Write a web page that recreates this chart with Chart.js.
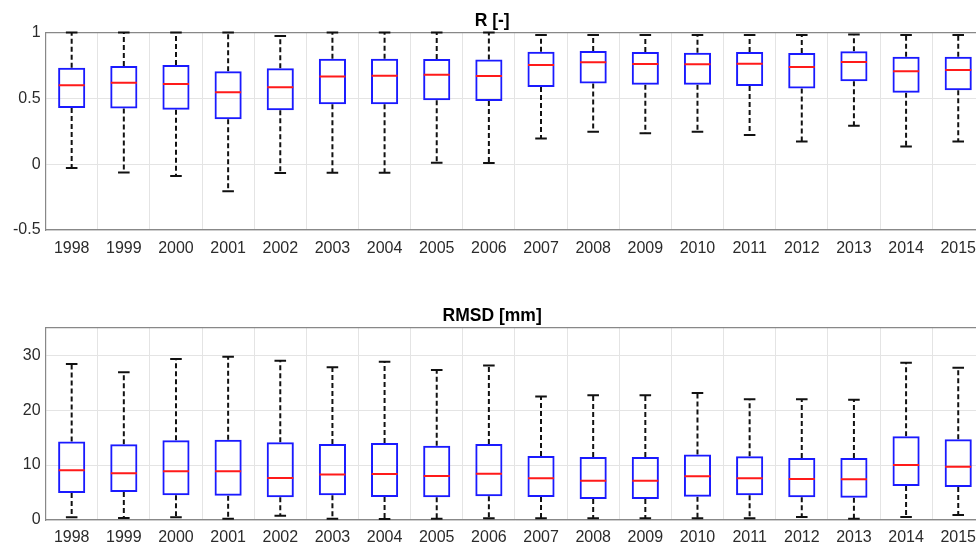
<!DOCTYPE html>
<html>
<head>
<meta charset="utf-8">
<script src="https://cdn.jsdelivr.net/npm/chart.js@4.4.1/dist/chart.umd.min.js"></script>
<style>
  html, body { margin: 0; padding: 0; background: #fff; overflow: hidden; width: 976px; height: 545px; }
  #wrap { position: relative; width: 976px; height: 545px; overflow: hidden; }
  canvas { position: absolute; left: 0; }
  #c1 { top: 0; }
  #c2 { top: 290px; }
</style>
</head>
<body>
<div id="wrap">
  <canvas id="c1" width="1000" height="270"></canvas>
  <canvas id="c2" width="1000" height="255"></canvas>
</div>
<script>
const years = ['1998','1999','2000','2001','2002','2003','2004','2005','2006','2007','2008','2009','2010','2011','2012','2013','2014','2015'];

// R [-]
const rMax = [1, 1, 1, 1, 0.973, 1, 1, 1, 1, 0.981, 0.981, 0.981, 0.981, 0.981, 0.981, 0.984, 0.981, 0.981];
const rQ3  = [0.733, 0.746, 0.753, 0.706, 0.728, 0.801, 0.801, 0.799, 0.794, 0.854, 0.860, 0.852, 0.847, 0.852, 0.844, 0.857, 0.816, 0.816];
const rMed = [0.600, 0.619, 0.609, 0.546, 0.584, 0.665, 0.672, 0.680, 0.670, 0.753, 0.774, 0.761, 0.759, 0.763, 0.738, 0.776, 0.706, 0.716];
const rQ1  = [0.427, 0.422, 0.414, 0.341, 0.410, 0.455, 0.455, 0.486, 0.480, 0.586, 0.612, 0.604, 0.604, 0.594, 0.574, 0.630, 0.543, 0.561];
const rMin = [-0.030, -0.064, -0.089, -0.205, -0.068, -0.066, -0.066, 0.010, 0.008, 0.194, 0.247, 0.235, 0.247, 0.222, 0.172, 0.291, 0.134, 0.172];
const rTicks = [-0.5, 0, 0.5, 1];

// RMSD [mm]
const sMax = [28.4, 26.9, 29.3, 29.7, 29.0, 27.8, 28.8, 27.3, 28.1, 22.5, 22.7, 22.7, 23.1, 22.0, 22.0, 21.9, 28.6, 27.7];
const sQ3  = [14.3, 13.8, 14.5, 14.6, 14.15, 13.84, 14.0, 13.5, 13.84, 11.66, 11.48, 11.48, 11.9, 11.6, 11.3, 11.3, 15.24, 14.7];
const sMed = [9.05, 8.5, 8.86, 8.86, 7.65, 8.3, 8.38, 8.0, 8.44, 7.59, 7.16, 7.16, 7.95, 7.59, 7.47, 7.4, 10.0, 9.71];
const sQ1  = [4.92, 5.1, 4.5, 4.43, 4.13, 4.5, 4.19, 4.13, 4.3, 4.19, 3.83, 3.83, 4.25, 4.5, 4.13, 4.07, 6.19, 6.0];
const sMin = [0.49, 0.36, 0.49, 0.24, 0.79, 0.24, 0.18, 0.24, 0.3, 0.3, 0.3, 0.3, 0.3, 0.3, 0.55, 0.24, 0.55, 0.9];
const sTicks = [0, 10, 20, 30];

const FONT = "'Liberation Sans', Arial, Helvetica, sans-serif";
const CAP = 0.111;   // half width of whisker caps (x units)
const HALF = 0.25;   // half width of median line (x units)

function segs(pairsFn) {
  const out = [];
  years.forEach((_, i) => {
    pairsFn(i).forEach(p => out.push(p));
    out.push({x: i, y: null});
  });
  return out;
}

function buildDatasets(mn, q1, md, q3, mx) {
  return [
    { type: 'line', label: 'median', data: segs(i => [{x: i - HALF, y: md[i]}, {x: i + HALF, y: md[i]}]),
      borderColor: '#ff1a1a', borderWidth: 2, pointRadius: 0, spanGaps: false, clip: false, order: 0 },
    { type: 'bar', label: 'box', data: years.map((_, i) => ({x: i, y: [q1[i], q3[i]]})),
      backgroundColor: 'rgba(0,0,0,0)', borderColor: '#1a1aff', borderWidth: 2, borderSkipped: false,
      barPercentage: 0.52, categoryPercentage: 1, order: 1 },
    { type: 'line', label: 'whiskers', data: segs(i => [{x: i, y: q3[i]}, {x: i, y: mx[i]}, {x: i, y: null}, {x: i, y: q1[i]}, {x: i, y: mn[i]}]),
      borderColor: '#111111', borderWidth: 2, borderDash: [5, 3], pointRadius: 0, spanGaps: false, clip: false, order: 2 },
    { type: 'line', label: 'caps', data: segs(i => [{x: i - CAP, y: mx[i]}, {x: i + CAP, y: mx[i]}, {x: i, y: null}, {x: i - CAP, y: mn[i]}, {x: i + CAP, y: mn[i]}]),
      borderColor: '#111111', borderWidth: 2, pointRadius: 0, spanGaps: false, clip: false, order: 3 }
  ];
}

function makeChart(canvasId, title, titlePad, yMin, yMax, yTicks, xAxisHeight, xLabelPad, datasets) {
  return new Chart(document.getElementById(canvasId), {
    type: 'bar',
    data: { datasets: datasets },
    options: {
      responsive: false,
      animation: false,
      devicePixelRatio: 1,
      layout: { padding: { left: 0, right: 15.7, top: 0, bottom: 0 } },
      plugins: {
        legend: { display: false },
        tooltip: { enabled: false },
        title: {
          display: true, text: title, color: '#000',
          font: { family: FONT, size: 17.5, weight: 'bold' },
          padding: titlePad
        }
      },
      scales: {
        x: {
          type: 'linear', position: 'bottom', min: -0.5, max: 17.5, offset: false,
          afterBuildTicks: s => { s.ticks = years.map((_, i) => ({value: i})); },
          afterFit: s => { s.height = xAxisHeight; },
          ticks: { autoSkip: false, maxRotation: 0, padding: xLabelPad, color: '#2b2b2b',
                   font: { family: FONT, size: 16 }, callback: v => years[v] },
          grid: { color: '#e4e4e4', lineWidth: 1, drawTicks: false },
          border: { color: '#888', width: 1.2 }
        },
        xTop: {
          type: 'linear', position: 'top', min: -0.5, max: 17.5,
          ticks: { display: false },
          grid: { display: false, drawTicks: false },
          border: { display: true, color: '#888', width: 1.2 }
        },
        y: {
          type: 'linear', position: 'left', min: yMin, max: yMax,
          afterBuildTicks: s => { s.ticks = yTicks.map(v => ({value: v})); },
          afterFit: s => { s.width = 45.6; },
          ticks: { padding: 5, color: '#2b2b2b', font: { family: FONT, size: 16 }, callback: v => String(v) },
          grid: { color: '#e4e4e4', lineWidth: 1, drawTicks: false },
          border: { color: '#888', width: 1.2 }
        }
      }
    }
  });
}

makeChart('c1', 'R [-]', {top: 10.5, bottom: 1}, -0.5, 1, rTicks, 40, 8.5,
          buildDatasets(rMin, rQ1, rMed, rQ3, rMax));
makeChart('c2', 'RMSD [mm]', {top: 15.5, bottom: 1.2}, 0, 35, sTicks, 25, 7.5,
          buildDatasets(sMin, sQ1, sMed, sQ3, sMax));
</script>
</body>
</html>
